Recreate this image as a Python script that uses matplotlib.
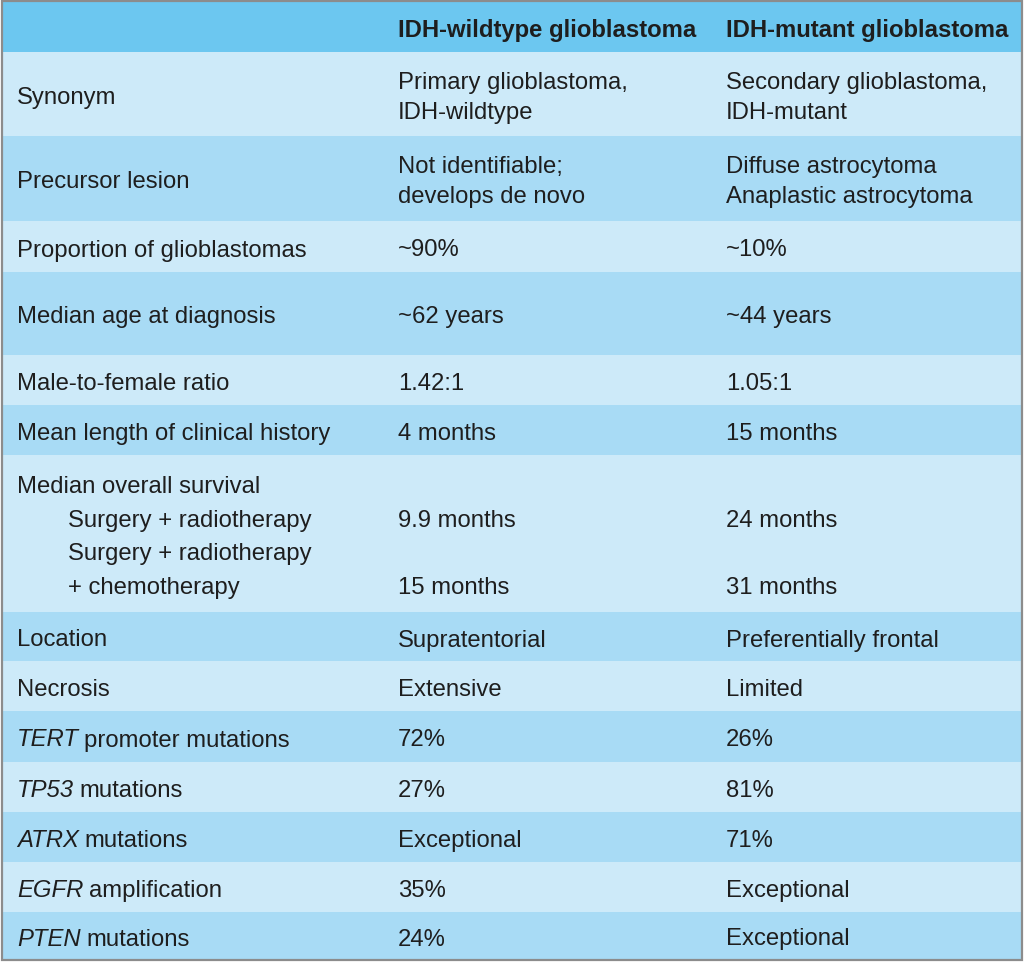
import matplotlib
matplotlib.use("Agg")
import matplotlib.pyplot as plt
from matplotlib.patches import Rectangle
from matplotlib.transforms import offset_copy

plt.rcParams['font.family'] = ['Liberation Sans', 'DejaVu Sans']

# ---- table content ----
column_headers = ["", "IDH-wildtype glioblastoma", "IDH-mutant glioblastoma"]
# text between asterisks is set in italics (gene names)
row_labels = [
    ["Synonym"],
    ["Precursor lesion"],
    ["Proportion of glioblastomas"],
    ["Median age at diagnosis"],
    ["Male-to-female ratio"],
    ["Mean length of clinical history"],
    ["Median overall survival", "    Surgery + radiotherapy",
     "    Surgery + radiotherapy", "    + chemotherapy"],
    ["Location"],
    ["Necrosis"],
    ["*TERT* promoter mutations"],
    ["*TP53* mutations"],
    ["*ATRX* mutations"],
    ["*EGFR* amplification"],
    ["*PTEN* mutations"],
]
wildtype_values = [
    ["Primary glioblastoma,", "IDH-wildtype"],
    ["Not identifiable;", "develops de novo"],
    ["~90%"],
    ["~62 years"],
    ["1.42:1"],
    ["4 months"],
    ["", "9.9 months", "", "15 months"],
    ["Supratentorial"],
    ["Extensive"],
    ["72%"],
    ["27%"],
    ["Exceptional"],
    ["35%"],
    ["24%"],
]
mutant_values = [
    ["Secondary glioblastoma,", "IDH-mutant"],
    ["Diffuse astrocytoma", "Anaplastic astrocytoma"],
    ["~10%"],
    ["~44 years"],
    ["1.05:1"],
    ["15 months"],
    ["", "24 months", "", "31 months"],
    ["Preferentially frontal"],
    ["Limited"],
    ["26%"],
    ["81%"],
    ["71%"],
    ["Exceptional"],
    ["Exceptional"],
]

# ---- layout (pixels) ----
W, H = 1024, 963
row_edges = [2, 52, 136, 221, 272, 355, 405, 455, 612, 661, 711, 762, 812, 862, 912, 959]
col_x = [17, 398, 726]
indent_px = 51
line_gap = {0: 30, 1: 30, 6: 33.7}
half_cap = 9
fs = 17.2
word_gap_px = 5.5

header_color = "#6CC7F0"
dark_color = "#A8DBF5"
light_color = "#CDEAF9"
text_color = "#1E1E1E"

fig = plt.figure(figsize=(W / 100, H / 100), dpi=100)
ax = fig.add_axes([0, 0, 1, 1])
ax.set_xlim(0, W)
ax.set_ylim(H, 0)
ax.axis("off")
fig.patch.set_facecolor("white")
renderer = fig.canvas.get_renderer()


def draw_line(x, y, s):
    if s.startswith("*"):
        _, ital, rest = s.split("*", 2)
        t = ax.text(x, y, ital, fontsize=fs, style="italic", color=text_color,
                    va="baseline", ha="left")
        w = t.get_window_extent(renderer).width + word_gap_px
        tr = offset_copy(ax.transData, fig=fig, x=w * 72 / fig.dpi, y=0, units="points")
        ax.text(x, y, rest.strip(), fontsize=fs, color=text_color, va="baseline",
                ha="left", transform=tr)
    else:
        ax.text(x, y, s, fontsize=fs, color=text_color, va="baseline", ha="left")


x0, x1 = 2, 1022
ax.add_patch(Rectangle((x0, row_edges[0]), x1 - x0, row_edges[1] - row_edges[0],
                       facecolor=header_color, edgecolor="none"))
hc = (row_edges[0] + row_edges[1]) / 2 + 1
for j, h in enumerate(column_headers):
    if h:
        ax.text(col_x[j], hc + half_cap, h, fontsize=fs, fontweight="bold",
                color=text_color, va="baseline", ha="left")

for i in range(len(row_labels)):
    top, bot = row_edges[i + 1], row_edges[i + 2]
    color = light_color if i % 2 == 0 else dark_color
    ax.add_patch(Rectangle((x0, top), x1 - x0, bot - top, facecolor=color, edgecolor="none"))
    center = (top + bot) / 2 + 1
    gap = line_gap.get(i, 30)
    for j, cell in enumerate([row_labels[i], wildtype_values[i], mutant_values[i]]):
        n = len(cell)
        for k, line in enumerate(cell):
            if not line:
                continue
            x = col_x[j]
            if line.startswith("    "):
                x += indent_px
                line = line.strip()
            y = center + (k - (n - 1) / 2) * gap + half_cap
            draw_line(x, y, line)

ax.add_patch(Rectangle((x0, 1), x1 - x0, 959, facecolor="none", edgecolor="#8C8C8C", linewidth=1.6))

fig.savefig("out.png", dpi=100, facecolor="white")
